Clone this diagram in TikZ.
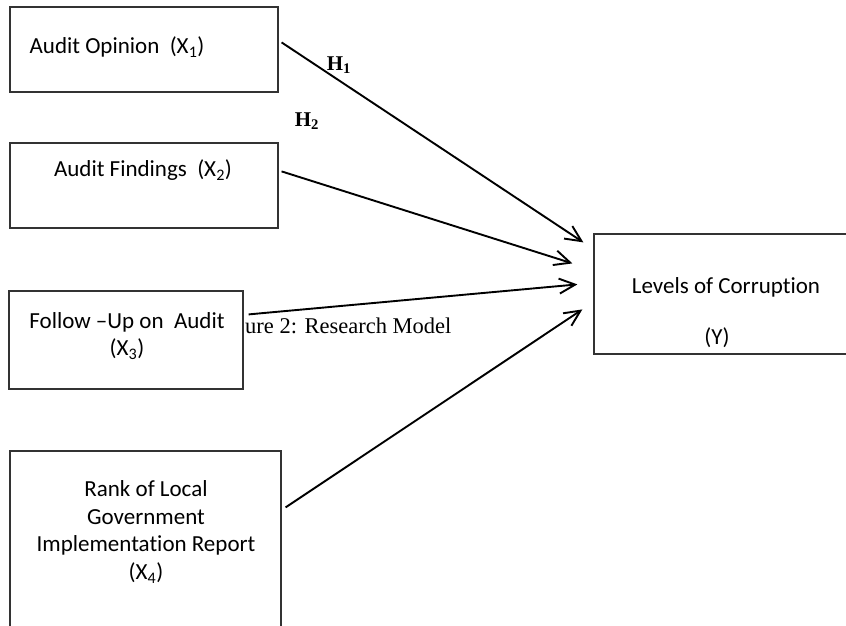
\documentclass[tikz,border=0pt]{standalone}
\usepackage{fontspec}
\setmainfont{Carlito}[Ligatures=NoCommon]
\newfontfamily\timesfont{Liberation Serif}
\usetikzlibrary{arrows.meta, calc}

\begin{document}
\begin{tikzpicture}[x=1pt,y=-1pt,
	varbox/.style={rectangle,draw=black!80,line width=1.2pt,fill=white},
	boxtext/.style={font=\fontsize{23}{27.5}\selectfont,align=center,inner sep=0pt},
	hyp/.style={font=\timesfont\bfseries\fontsize{21}{24}\selectfont,inner sep=0pt},
	arrow/.style={-{Straight Barb[length=16pt,width=15pt,line width=1.9pt]},line width=1.9pt},
	]
	\useasboundingbox (0,0) rectangle (846,626);
	
	% Independent variables
	\node[varbox,minimum width=268pt,minimum height=85pt] (x1) at (144,49.5) {};
	\node[boxtext] (x1txt) at (117,47) {Audit Opinion\ \ (X\textsubscript{1})};
	\node[varbox,minimum width=268pt,minimum height=85pt] (x2) at (144,185.5) {};
	\node[boxtext] (x2txt) at (143,170) {Audit Findings\ \ (X\textsubscript{2})};
	\node[varbox,minimum width=234pt,minimum height=98pt] (x3) at (126,340) {};
	\node[boxtext] (x3txt) at (127,336) {Follow --Up on\ \ Audit\\(X\textsubscript{3})};
	\node[varbox,minimum width=271pt,minimum height=189pt] (x4) at (145.5,545.5) {};
	\node[boxtext] (x4txt) at (146,532) {Rank of Local\\Government\\Implementation Report\\(X\textsubscript{4})};
	
	% Dependent variable
	\node[varbox,minimum width=256pt,minimum height=120pt] (y) at (722,294) {};
	\node[boxtext] (ytxt) at (726,287) {Levels of Corruption};
	\node[boxtext] (ylbl) at (717,338) {(Y)};
	
	\node[font=\timesfont\fontsize{22.5}{27}\selectfont,anchor=west,inner sep=0pt] (caption) at (245,326) {ure 2: Research Model};
	
	\node[hyp] (h1) at (339,65) {H\textsubscript{1}};
	\node[hyp] (h2) at (307,121) {H\textsubscript{2}};
	
	\draw[arrow] ($(x1.north east)+(3,36)$) -- ($(y.north west)+(-10,9)$);
	\draw[arrow] ($(x2.north east)+(3,29)$) -- ($(y.north west)+(-21,30)$);
	\draw[arrow] ($(x3.north east)+(5,24)$) -- ($(y.north west)+(-16,51)$);
	\draw[arrow] ($(x4.north east)+(4,57)$) -- ($(y.north west)+(-11,76)$);
\end{tikzpicture}
\end{document}
